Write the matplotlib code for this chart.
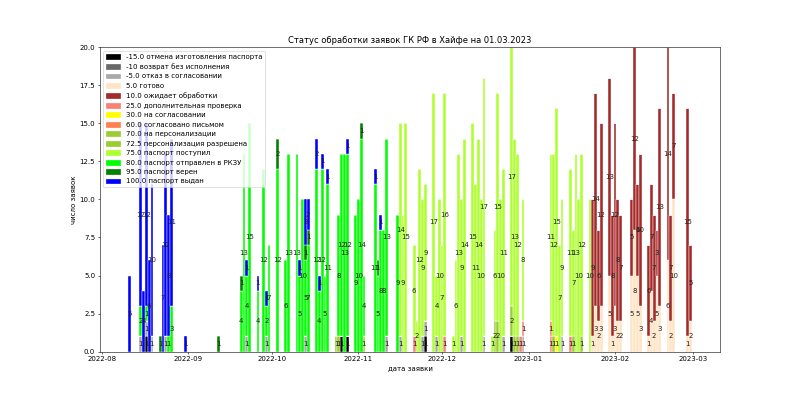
import matplotlib
matplotlib.use('Agg')
import matplotlib.pyplot as plt
import matplotlib.dates as mdates
from matplotlib.patches import Patch
import pandas as pd
import numpy as np

status_codes = [-15.0, -10, -5.0, 5.0, 10.0, 25.0, 30.0, 60.0, 70.0, 72.5, 75.0, 80.0, 95.0, 100.0]
status_labels = ['-15.0 отмена изготовления паспорта', '-10 возврат без исполнения',
                 '-5.0 отказ в согласовании', '5.0 готово', '10.0 ожидает обработки',
                 '25.0 дополнительная проверка', '30.0 на согласовании',
                 '60.0 согласовано письмом', '70.0 на персонализации',
                 '72.5 персонализация разрешена', '75.0 паспорт поступил',
                 '80.0 паспорт отправлен в РКЗУ', '95.0 паспорт верен',
                 '100.0 паспорт выдан']
status_colors = ['black', 'dimgray', 'darkgray', 'bisque', 'brown', 'salmon', 'yellow',
                 'coral', 'yellowgreen', 'yellowgreen', 'greenyellow', 'lime', 'green', 'blue']

cancelled = {'2022-08-17': 1, '2022-10-26': 1, '2022-10-28': 1, '2022-11-25': 1, '2022-12-26': 1}
returned = {}
refused = {'2022-08-15': 1, '2022-08-17': 1, '2022-08-19': 1, '2022-08-24': 1, '2022-09-22': 1,
           '2022-09-29': 1, '2022-10-13': 1, '2022-11-11': 1, '2022-11-16': 1,
           '2022-11-24': 1, '2022-11-25': 1, '2022-11-29': 1, '2022-12-08': 1, '2022-12-16': 1,
           '2022-12-23': 1, '2022-12-30': 1, '2023-01-13': 1}
ready = {'2023-01-24': 1, '2023-01-25': 3, '2023-01-26': 2, '2023-01-27': 3, '2023-01-30': 5,
         '2023-01-31': 1, '2023-02-01': 3, '2023-02-02': 2, '2023-02-03': 2, '2023-02-07': 5,
         '2023-02-08': 8, '2023-02-09': 5, '2023-02-10': 3, '2023-02-13': 1, '2023-02-14': 4,
         '2023-02-15': 2, '2023-02-16': 5, '2023-02-17': 3, '2023-02-20': 6, '2023-02-21': 2,
         '2023-02-22': 10, '2023-02-27': 1, '2023-02-28': 2}
waiting = {'2023-01-24': 9, '2023-01-25': 14, '2023-01-26': 6, '2023-01-27': 12, '2023-01-30': 13,
           '2023-01-31': 8, '2023-02-01': 12, '2023-02-02': 8, '2023-02-03': 7, '2023-02-07': 5,
           '2023-02-08': 12, '2023-02-09': 6, '2023-02-10': 10, '2023-02-13': 6, '2023-02-14': 7,
           '2023-02-15': 7, '2023-02-16': 3, '2023-02-17': 13, '2023-02-20': 14, '2023-02-21': 7,
           '2023-02-22': 7, '2023-02-27': 15, '2023-02-28': 5}
extra_check = {'2022-11-21': 1, '2022-12-02': 1, '2022-12-29': 1, '2022-12-30': 1,
               '2023-01-09': 1, '2023-01-16': 1}
approving = {'2023-01-11': 1}
approved_letter = {'2023-01-09': 1}
personalizing = {'2022-10-24': 1, '2022-10-25': 1, '2022-11-03': 1, '2022-12-20': 2, '2022-12-21': 2,
                 '2022-12-26': 2, '2022-12-27': 1, '2022-12-28': 1, '2023-01-10': 1,
                 '2023-01-17': 1, '2023-01-20': 1}
personalization_ok = {}
received = {'2022-11-16': 14, '2022-11-17': 9, '2022-11-18': 15, '2022-11-21': 6, '2022-11-22': 2,
            '2022-11-23': 12, '2022-11-24': 9, '2022-11-25': 9, '2022-11-28': 17, '2022-11-29': 4,
            '2022-11-30': 10, '2022-12-01': 7, '2022-12-02': 16, '2022-12-05': 1, '2022-12-06': 6,
            '2022-12-07': 13, '2022-12-08': 9, '2022-12-09': 14, '2022-12-12': 15, '2022-12-13': 11,
            '2022-12-14': 14, '2022-12-15': 10, '2022-12-16': 17, '2022-12-19': 1, '2022-12-20': 6,
            '2022-12-21': 15, '2022-12-22': 10, '2022-12-23': 11, '2022-12-26': 17, '2022-12-27': 13,
            '2022-12-28': 12, '2022-12-30': 8, '2023-01-09': 11, '2023-01-10': 12, '2023-01-11': 15,
            '2023-01-12': 7, '2023-01-13': 9, '2023-01-16': 11, '2023-01-17': 7, '2023-01-18': 13,
            '2023-01-19': 10, '2023-01-20': 12, '2023-01-23': 10}
sent_rkzu = {'2022-08-15': 2, '2022-08-17': 1, '2022-08-25': 1, '2022-08-26': 3, '2022-09-20': 4,
             '2022-09-21': 13, '2022-09-22': 4, '2022-09-23': 15, '2022-09-26': 4, '2022-09-28': 12,
             '2022-09-29': 2, '2022-09-30': 7, '2022-10-03': 12, '2022-10-06': 6, '2022-10-07': 13,
             '2022-10-10': 13, '2022-10-11': 5, '2022-10-12': 10, '2022-10-13': 5, '2022-10-14': 7,
             '2022-10-17': 12, '2022-10-18': 4, '2022-10-19': 12, '2022-10-20': 5, '2022-10-21': 11,
             '2022-10-25': 8, '2022-10-26': 12, '2022-10-27': 13, '2022-10-28': 12, '2022-10-31': 9,
             '2022-11-01': 10, '2022-11-02': 14, '2022-11-03': 4, '2022-11-07': 11, '2022-11-08': 5,
             '2022-11-09': 8, '2022-11-10': 8, '2022-11-11': 13, '2022-11-15': 9}
correct = {'2022-08-22': 1, '2022-09-12': 1, '2022-09-20': 1, '2022-10-03': 2, '2022-10-13': 1,
           '2022-10-14': 1, '2022-11-02': 1, '2022-11-08': 1}
issued = {'2022-08-11': 5, '2022-08-15': 12, '2022-08-16': 4, '2022-08-17': 12, '2022-08-18': 6,
          '2022-08-19': 10, '2022-08-23': 7, '2022-08-24': 12, '2022-08-25': 8, '2022-08-26': 11,
          '2022-08-31': 1, '2022-09-22': 1, '2022-09-26': 1, '2022-09-29': 1, '2022-10-11': 1,
          '2022-10-13': 3, '2022-10-14': 2, '2022-10-17': 2, '2022-10-18': 1, '2022-10-19': 1,
          '2022-10-21': 1, '2022-10-28': 1, '2022-11-07': 1, '2022-11-09': 1}

series = [cancelled, returned, refused, ready, waiting, extra_check, approving, approved_letter,
          personalizing, personalization_ok, received, sent_rkzu, correct, issued]

all_dates = sorted(set().union(*[set(s.keys()) for s in series]))
df = pd.DataFrame(0.0, index=pd.to_datetime(all_dates), columns=range(len(series)))
for i, s in enumerate(series):
    for d, v in s.items():
        df.loc[pd.Timestamp(d), i] = v

fig, ax = plt.subplots(figsize=(16, 7.9), dpi=50)
bottom = np.zeros(len(df))
for i, (lab, col) in enumerate(zip(status_labels, status_colors)):
    vals = df[i].values
    ax.bar(df.index, vals, width=1.0, bottom=bottom, color=col,
           edgecolor='white', linewidth=0.6)
    for x, b, v in zip(df.index, bottom, vals):
        if v > 0:
            ax.text(x, b + v / 2, str(int(v)), ha='center', va='center', fontsize=10,
                    color='#222222')
    bottom = bottom + vals

ax.set_ylim(0, 20)
ax.xaxis.set_major_locator(mdates.MonthLocator())
ax.xaxis.set_major_formatter(mdates.DateFormatter('%Y-%m'))
ax.set_title('Статус обработки заявок ГК РФ в Хайфе на 01.03.2023')
ax.set_xlabel('дата заявки')
ax.set_ylabel('число заявок')
handles = [Patch(color=c) for c in status_colors]
ax.legend(handles, status_labels, loc='upper left')
fig.savefig('out.png', dpi=50)
